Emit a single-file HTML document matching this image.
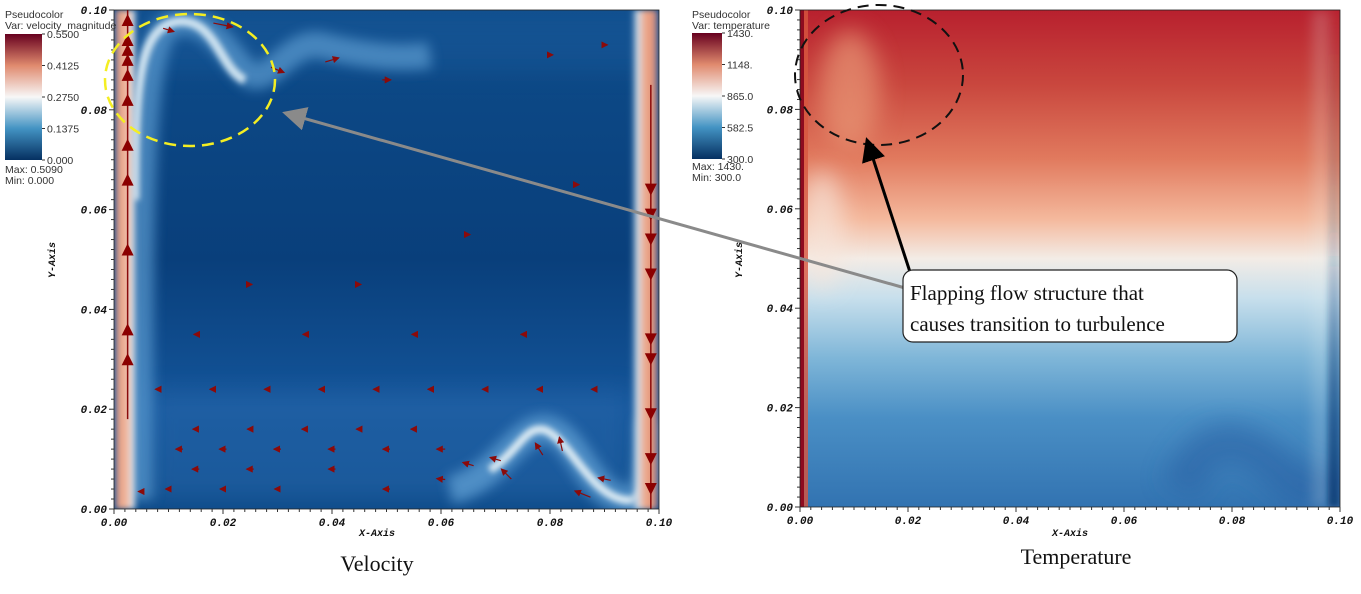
<!DOCTYPE html>
<html><head><meta charset="utf-8"><style>
html,body{margin:0;padding:0;background:#fff;}
svg{display:block;}
.tk{font-family:"Liberation Mono",monospace;font-weight:bold;font-style:italic;font-size:11px;fill:#111;}
.lg{font-family:"Liberation Sans",sans-serif;font-size:10.5px;fill:#333;}
.cap{font-family:"Liberation Serif",serif;font-size:22px;fill:#111;}
</style></head><body>
<svg id="fig" width="1361" height="594" viewBox="0 0 1361 594" xmlns="http://www.w3.org/2000/svg">
<defs>
<linearGradient id="divv" x1="0" y1="1" x2="0" y2="0">
<stop offset="0" stop-color="#053061"/><stop offset="0.25" stop-color="#4393c3"/><stop offset="0.5" stop-color="#f7f7f7"/><stop offset="0.75" stop-color="#e08a6e"/><stop offset="1" stop-color="#67001f"/>
</linearGradient>
<linearGradient id="tempg" x1="0" y1="0" x2="0" y2="1">
<stop offset="0" stop-color="#b8202e"/><stop offset="0.15" stop-color="#c9473e"/><stop offset="0.3" stop-color="#e17a5e"/><stop offset="0.42" stop-color="#f4b89c"/><stop offset="0.5" stop-color="#f3ece6"/><stop offset="0.58" stop-color="#c7dfec"/><stop offset="0.7" stop-color="#7fb6d8"/><stop offset="0.82" stop-color="#4a8fc5"/><stop offset="1" stop-color="#3273b1"/>
</linearGradient>
<linearGradient id="velbg" x1="0" y1="0" x2="0" y2="1">
<stop offset="0" stop-color="#0e4c8a"/><stop offset="0.5" stop-color="#093f7b"/><stop offset="0.8" stop-color="#14559a"/><stop offset="1" stop-color="#0d4a88"/>
</linearGradient>
<linearGradient id="wallL" x1="0" y1="0" x2="1" y2="0">
<stop offset="0" stop-color="#1c5d9e"/><stop offset="0.2" stop-color="#e7a083"/><stop offset="0.55" stop-color="#f1b89f"/><stop offset="0.8" stop-color="#dbe9f2"/><stop offset="1" stop-color="#2a6aa8" stop-opacity="0"/>
</linearGradient>
<linearGradient id="wallR" x1="0" y1="0" x2="1" y2="0">
<stop offset="0" stop-color="#2a6aa8" stop-opacity="0"/><stop offset="0.25" stop-color="#d4e5f0"/><stop offset="0.5" stop-color="#eda98c"/><stop offset="0.8" stop-color="#e5967a"/><stop offset="1" stop-color="#1a5a9a"/>
</linearGradient>
<linearGradient id="tRight" x1="0" y1="0" x2="0" y2="1">
<stop offset="0" stop-color="#1a4c86" stop-opacity="0"/><stop offset="0.5" stop-color="#1a4c86" stop-opacity="0.2"/><stop offset="1" stop-color="#0f3d75" stop-opacity="0.9"/>
</linearGradient>
<filter id="blur6" filterUnits="userSpaceOnUse" x="0" y="0" width="1361" height="594"><feGaussianBlur stdDeviation="6"/></filter>
<filter id="blur3" filterUnits="userSpaceOnUse" x="0" y="0" width="1361" height="594"><feGaussianBlur stdDeviation="3"/></filter>
<filter id="blur12" filterUnits="userSpaceOnUse" x="0" y="0" width="1361" height="594"><feGaussianBlur stdDeviation="12"/></filter>
<clipPath id="clipV"><rect x="114" y="10" width="545" height="499"/></clipPath>
<clipPath id="clipT"><rect x="800" y="10" width="540" height="497"/></clipPath>
<marker id="ah" markerWidth="6" markerHeight="6" refX="5" refY="3" orient="auto"><path d="M0,0 L6,3 L0,6z" fill="#8b0a0a"/></marker>
<marker id="ahb" markerWidth="8" markerHeight="8" refX="7" refY="4" orient="auto"><path d="M0,0 L8,4 L0,8z" fill="#000"/></marker>
<marker id="ahg" markerWidth="8" markerHeight="8" refX="7" refY="4" orient="auto"><path d="M0,0 L8,4 L0,8z" fill="#8a8a8a"/></marker>
</defs>

<!-- VELOCITY PANEL -->
<g>
<g clip-path="url(#clipV)">
<rect x="114" y="10" width="545" height="499" fill="url(#velbg)"/>
<rect x="150" y="390" width="480" height="110" fill="#2a6aae" opacity="0.45" filter="url(#blur12)"/>
<rect x="125" y="10" width="530" height="60" fill="#1d5d9f" opacity="0.4" filter="url(#blur12)"/>
<path d="M140,500 C140,200 140,40 170,25 C210,10 230,60 250,75 C270,85 290,40 320,45 C360,55 400,60 430,55" stroke="#5b9bd0" stroke-width="26" fill="none" filter="url(#blur6)" opacity="0.7"/>
<path d="M135,200 C135,80 140,30 175,22 C215,15 220,70 245,80" stroke="#cfe3f0" stroke-width="9" fill="none" filter="url(#blur3)"/>
<path d="M450,490 C500,480 520,420 550,430 C580,440 590,500 630,500 C645,500 650,480 650,420" stroke="#5b9bd0" stroke-width="28" fill="none" filter="url(#blur6)" opacity="0.8"/>
<path d="M490,470 C520,450 525,425 545,430 C570,440 590,495 625,500 C640,502 646,490 648,460" stroke="#dbeaf3" stroke-width="8" fill="none" filter="url(#blur3)"/>
<rect x="114" y="10" width="24" height="499" fill="url(#wallL)" filter="url(#blur3)"/>
<rect x="630" y="10" width="29" height="499" fill="url(#wallR)" filter="url(#blur3)"/>
</g>
<g id="vArrows"></g>
<rect x="114" y="10" width="545" height="499" fill="none" stroke="#222" stroke-width="0.8"/>
<g id="vAxes"></g>
<ellipse cx="190" cy="80" rx="85" ry="66" fill="none" stroke="#f4ee22" stroke-width="2.5" stroke-dasharray="12,7"/>
<text class="tk" x="377" y="536" text-anchor="middle" style="font-size:10px">X-Axis</text>
<text class="tk" x="55" y="260" text-anchor="middle" transform="rotate(-90 55 260)" style="font-size:10px">Y-Axis</text>
<text class="cap" x="377" y="571" text-anchor="middle">Velocity</text>
</g>
<g>
<text class="lg" x="5" y="18">Pseudocolor</text>
<text class="lg" x="5" y="29">Var: velocity_magnitude</text>
<rect x="5" y="34" width="37" height="126" fill="url(#divv)"/>
<g id="vLegTicks"></g>
<text class="lg" x="5" y="173">Max: 0.5090</text>
<text class="lg" x="5" y="184">Min: 0.000</text>
</g>

<!-- TEMPERATURE PANEL -->
<g>
<g clip-path="url(#clipT)">
<rect x="800" y="10" width="540" height="497" fill="url(#tempg)"/>
<ellipse cx="850" cy="90" rx="30" ry="60" fill="#e99877" filter="url(#blur12)" opacity="0.7"/>
<ellipse cx="822" cy="230" rx="22" ry="60" fill="#f7e6dc" filter="url(#blur12)" opacity="0.7"/>
<path d="M1180,490 C1210,420 1250,440 1290,480 C1310,500 1320,490 1325,470" stroke="#2a64a6" stroke-width="40" fill="none" filter="url(#blur12)" opacity="0.6"/>
<rect x="1312" y="10" width="18" height="497" fill="#e4efef" opacity="0.2" filter="url(#blur6)"/>
<rect x="1328" y="10" width="12" height="497" fill="url(#tRight)" filter="url(#blur3)"/>
<rect x="800" y="10" width="4" height="497" fill="#8e0b1f"/>
<rect x="804" y="10" width="4" height="497" fill="#d7563f" opacity="0.8"/>
</g>
<rect x="800" y="10" width="540" height="497" fill="none" stroke="#222" stroke-width="0.8"/>
<g id="tAxes"></g>
<ellipse cx="879" cy="75" rx="84" ry="70" fill="none" stroke="#111" stroke-width="2" stroke-dasharray="11,7"/>
<text class="tk" x="1070" y="536" text-anchor="middle" style="font-size:10px">X-Axis</text>
<text class="tk" x="742" y="260" text-anchor="middle" transform="rotate(-90 742 260)" style="font-size:10px">Y-Axis</text>
<text class="cap" x="1076" y="564" text-anchor="middle">Temperature</text>
</g>
<g>
<text class="lg" x="692" y="18">Pseudocolor</text>
<text class="lg" x="692" y="29">Var: temperature</text>
<rect x="692" y="33" width="30" height="126" fill="url(#divv)"/>
<g id="tLegTicks"></g>
<text class="lg" x="692" y="170">Max: 1430.</text>
<text class="lg" x="692" y="181">Min: 300.0</text>
</g>

<!-- Annotation -->
<g>
<line x1="905" y1="288" x2="285" y2="113" stroke="#8a8a8a" stroke-width="3" marker-end="url(#ahg)"/>
<line x1="910" y1="272" x2="867" y2="140" stroke="#000" stroke-width="3" marker-end="url(#ahb)"/>
<rect x="903" y="270" width="334" height="72" rx="10" fill="#fff" stroke="#222" stroke-width="1.2"/>
<text class="cap" x="910" y="300" style="font-size:21px">Flapping flow structure that</text>
<text class="cap" x="910" y="331" style="font-size:21px">causes transition to turbulence</text>
</g>
</svg>
<script>
const xTicks=["0.00","0.02","0.04","0.06","0.08","0.10"];
const yTicks=["0.00","0.02","0.04","0.06","0.08","0.10"];
const vLegendLabels=["0.000","0.1375","0.2750","0.4125","0.5500"];
const tLegendLabels=["300.0","582.5","865.0","1148.","1430."];
// vector samples: x, y (domain units), u, v (direction), relative length
const vecX=[0.005,0.01,0.015,0.02,0.025,0.03,0.04,0.05,0.06,0.07,0.012,0.02,0.03,0.04,0.05,0.06,0.065,0.072,0.078,0.082,0.086,0.09,0.015,0.025,0.035,0.045,0.055,0.01,0.02,0.03,0.04,0.05,0.08,0.09,0.008,0.018,0.028,0.038,0.048,0.058,0.068,0.078,0.088,0.015,0.035,0.055,0.075,0.025,0.045,0.065,0.085];
const vecY=[0.0035,0.004,0.008,0.004,0.008,0.004,0.008,0.004,0.006,0.01,0.012,0.012,0.012,0.012,0.012,0.012,0.009,0.007,0.012,0.013,0.003,0.006,0.016,0.016,0.016,0.016,0.016,0.096,0.097,0.088,0.090,0.086,0.091,0.093,0.024,0.024,0.024,0.024,0.024,0.024,0.024,0.024,0.024,0.035,0.035,0.035,0.035,0.045,0.045,0.055,0.065];
const vecU=[-1,-1,-1,-1,-1,-1,-1,-1,-1,-1,-1,-1,-1,-1,-1,-1,-1,-0.6,-0.5,-0.2,-1,-1,-1,-1,-1,-1,-1,1,1,1,1,1,1,1,-1,-1,-1,-1,-1,-1,-1,-1,-1,-1,-1,-1,-1,1,1,1,1];
const vecV=[0,0,0,0,0,0,0,0,0.1,0.3,0,0,0,0,0,0,0.3,0.6,0.8,0.9,0.4,0.2,0,0,0,0,0,-0.3,-0.2,-0.4,0.3,0,0,0,0,0,0,0,0,0,0,0,0,0,0,0,0,0,0,0,0];
const vecMag=[0.4,0.4,0.5,0.4,0.5,0.4,0.5,0.5,0.6,0.8,0.5,0.5,0.5,0.5,0.5,0.6,0.8,1,1,1,1.2,0.9,0.4,0.4,0.4,0.4,0.4,0.8,1.4,1,1,0.6,0.4,0.4,0.3,0.3,0.3,0.3,0.3,0.3,0.3,0.3,0.3,0.25,0.25,0.25,0.25,0.25,0.25,0.25,0.25];
// wall markers: y positions of up-arrows (left wall) and down-arrows (right wall)
const leftWallY=[0.098,0.094,0.092,0.090,0.087,0.082,0.073,0.066,0.052,0.036,0.030];
const rightWallY=[0.064,0.059,0.054,0.047,0.034,0.030,0.019,0.010,0.004];
const NS="http://www.w3.org/2000/svg";
function el(t,a,p){const e=document.createElementNS(NS,t);for(const k in a)e.setAttribute(k,a[k]);p.appendChild(e);return e;}
function mkScale(d0,d1,r0,r1){return v=>r0+(v-d0)/(d1-d0)*(r1-r0);}
function axes(g,x0,x1,y0,y1){
  const sx=mkScale(0,0.1,x0,x1), sy=mkScale(0,0.1,y0,y1);
  for(let i=0;i<=50;i++){const v=i*0.002, maj=i%10===0;
    const px=sx(v);const t=el('line',{x1:px,y1:y0,x2:px,y2:y0+(maj?5:3),stroke:'#333','stroke-width':1},g);
    
    const py=sy(v);const t2=el('line',{x1:x0,y1:py,x2:x0-(maj?5:3),y2:py,stroke:'#333','stroke-width':1},g);
    }
  xTicks.forEach((s,i)=>{const t=el('text',{x:sx(i*0.02),y:y0+17,'text-anchor':'middle','class':'tk'},g);t.textContent=s;
    });
  yTicks.forEach((s,i)=>{const t=el('text',{x:x0-7,y:sy(i*0.02)+4,'text-anchor':'end','class':'tk'},g);t.textContent=s;
    });
  return [sx,sy];
}
const [vsx,vsy]=axes(document.getElementById('vAxes'),114,659,509,10);
axes(document.getElementById('tAxes'),800,1340,507,10);
function legend(g,labels,x,y0,y1){const s=mkScale(0,labels.length-1,y0,y1);
  labels.forEach((l,i)=>{const py=s(i);el('line',{x1:x-3,y1:py,x2:x,y2:py,stroke:'#333'},g);
    const t=el('text',{x:x+2,y:py+4,'class':'lg'},g);t.textContent=l;
    });}
legend(document.getElementById('vLegTicks'),vLegendLabels,45,160,34);
legend(document.getElementById('tLegTicks'),tLegendLabels,725,159,33);
const ag=document.getElementById('vArrows');
vecX.forEach((vx,i)=>{const px=vsx(vx),py=vsy(vecY[i]);const L=14*vecMag[i];
  const n=Math.hypot(vecU[i],vecV[i])||1;const dx=vecU[i]/n*L,dy=-vecV[i]/n*L;
  const a=el('line',{x1:px-dx/2,y1:py-dy/2,x2:px+dx/2,y2:py+dy/2,stroke:'#8b0a0a','stroke-width':1.2,'marker-end':'url(#ah)'},ag);
  });
const lx=vsx(0.0025);el('line',{x1:lx,y1:vsy(0.1),x2:lx,y2:vsy(0.018),stroke:'#8b0a0a','stroke-width':1.5},ag);
leftWallY.forEach(v=>{const py=vsy(v);const p=el('path',{d:`M${lx-6},${py+6} L${lx},${py-6} L${lx+6},${py+6}z`,fill:'#8b0000'},ag);
  });
const rx=vsx(0.0985);el('line',{x1:rx,y1:vsy(0.085),x2:rx,y2:vsy(0.0),stroke:'#8b0a0a','stroke-width':1.5},ag);
rightWallY.forEach(v=>{const py=vsy(v);const p=el('path',{d:`M${rx-6},${py-6} L${rx},${py+6} L${rx+6},${py-6}z`,fill:'#8b0000'},ag);
  });
</script>
</body></html>
